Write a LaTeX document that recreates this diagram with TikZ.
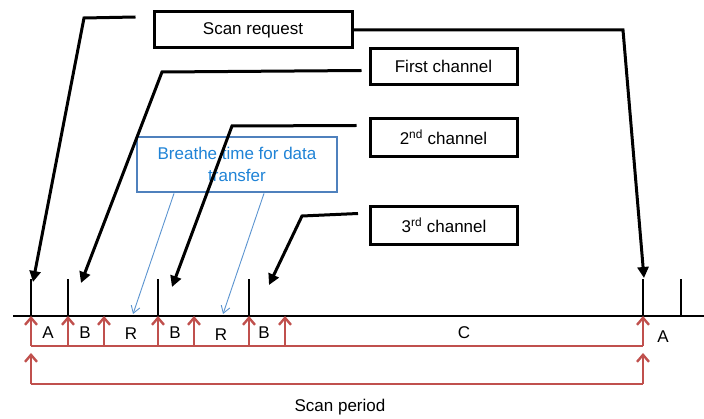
\documentclass[tikz,border=0pt]{standalone}
\usepackage{fontspec}
\setmainfont{Liberation Sans}
\usetikzlibrary{arrows.meta,positioning}
\definecolor{spanred}{RGB}{192,80,77}
\definecolor{boxblue}{RGB}{79,129,189}
\definecolor{noteblue}{RGB}{31,131,214}
\definecolor{leadblue}{RGB}{91,148,208}
\newcommand\lblfont{\fontsize{17}{22}\selectfont}
\tikzset{
    %Define style for boxes
    chanbox/.style={
           rectangle,
           draw=black, line width=3pt,
           minimum width=147pt,
           minimum height=36pt,
           font=\lblfont,
           text centered},
    notebox/.style={
           rectangle,
           draw=boxblue, line width=2.8pt,
           minimum width=200pt,
           minimum height=55pt,
           align=center,
           text=noteblue,
           font=\lblfont},
    lbl/.style={
           font=\lblfont,
           inner sep=0pt},
    % Define arrow styles
    pil/.style={
           -{Triangle[length=11pt,width=11pt]},
           line width=3pt},
    leadpil/.style={
           -{Straight Barb[length=7pt,width=9pt]},
           draw=leadblue, line width=0.9pt},
    spanpil/.style={
           -{Straight Barb[length=7pt,width=12pt]},
           draw=spanred, line width=2.4pt},
    tick/.style={line width=2.3pt}
}
\begin{document}
\begin{tikzpicture}[x=1pt,y=-1pt]
\useasboundingbox (0,0) rectangle (704,419);
 %nodes
\node[chanbox, minimum width=198pt](req) at (253,30){Scan request};
\node[chanbox](first) at (443.5,66.5){First channel};
\node[chanbox, minimum height=38pt](second) at (443.5,137.5){2\textsuperscript{nd} channel};
\node[chanbox, minimum height=38pt](third) at (444,225.5){3\textsuperscript{rd} channel};
\node[notebox](breathe) at (237,164.5){Breathe time for data\\transfer};
 %time line and ticks
\coordinate (start) at (13,316);
\coordinate (end) at (704,316);
\coordinate (top) at (0,279);
\coordinate (low) at (0,346);
\coordinate (p1) at (31,316);
\coordinate (p2) at (68,316);
\coordinate (p3) at (104,316);
\coordinate (p4) at (158,316);
\coordinate (p5) at (194,316);
\coordinate (p6) at (249,316);
\coordinate (p7) at (285,316);
\coordinate (p8) at (643,316);
\coordinate (p9) at (681,316);
\draw[tick] (start) -- (end);
\draw[tick] (p1) -- (p1 |- top);
\draw[tick] (p2) -- (p2 |- top);
\draw[tick] (p4) -- (p4 |- top);
\draw[tick] (p6) -- (p6 |- top);
\draw[tick] (p8) -- (p8 |- top);
\draw[tick] (p9) -- (p9 |- top);
 %arrow tips
\coordinate (a1) at (33,282);
\coordinate (a2) at (81,283);
\coordinate (a3) at (172,287);
\coordinate (a4) at (269,285);
\coordinate (a5) at (644,278);
\coordinate (b1) at (133,314);
\coordinate (b2) at (223,314);
 %connectors
\draw[pil] ([xshift=-17pt,yshift=13pt]req.west) -- (84,18) -- (a1);
\draw[pil] (req.east) -- (623,30) -- (a5);
\draw[pil] ([xshift=-7pt,yshift=-4pt]first.west) -- (162,72) -- (a2);
\draw[pil] ([xshift=-12pt,yshift=12pt]second.west) -- (232,126) -- (a3);
\draw[pil] ([xshift=-11pt,yshift=12pt]third.west) -- (302,216) -- (a4);
\draw[leadpil] (breathe.south -| 174,0) -- (b1);
\draw[leadpil] (breathe.south -| 264,0) -- (b2);
 %spans
\draw[draw=spanred, line width=2.4pt] (p1 |- low) -- (p8 |- low);
\draw[spanpil] (p1 |- low) -- (p1);
\draw[spanpil] (p2 |- low) -- (p2);
\draw[spanpil] (p3 |- low) -- (p3);
\draw[spanpil] (p4 |- low) -- (p4);
\draw[spanpil] (p5 |- low) -- (p5);
\draw[spanpil] (p6 |- low) -- (p6);
\draw[spanpil] (p7 |- low) -- (p7);
\draw[spanpil] (p8 |- low) -- (p8);
\draw[draw=spanred, line width=2.4pt] (31,384) -- (643,384);
\draw[spanpil] (643,384) -- (643,353);
\draw[spanpil] (31,384) -- (31,353);
 %labels
\node[lbl](lA1) at (48,333){A};
\node[lbl](lB1) at (85,333){B};
\node[lbl](lR1) at (131,334){R};
\node[lbl](lB2) at (175,333){B};
\node[lbl](lR2) at (221,335){R};
\node[lbl](lB3) at (264,333){B};
\node[lbl](lC) at (464,333){C};
\node[lbl](lA2) at (663,337){A};
\node[lbl](period) at (340,407){Scan period};
\end{tikzpicture}
\end{document}
